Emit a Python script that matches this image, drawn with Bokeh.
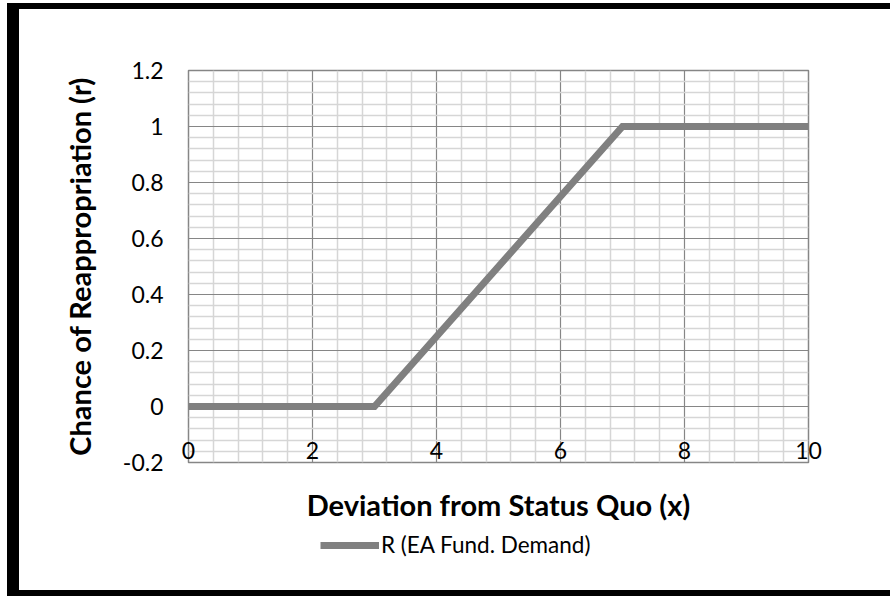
from bokeh.plotting import figure
from bokeh.layouts import column
from bokeh.models import (FixedTicker, NumeralTickFormatter, Legend, LegendItem,
                          Range1d, LinearAxis, Grid)
from bokeh.embed import file_html
from bokeh.resources import INLINE

# data
x_vals = [0, 3, 7, 10]
r_vals = [0, 0, 1, 1]
series_name = "R (EA Fund. Demand)"
x_title = "Deviation from Status Quo (x)"
y_title = "Chance of Reappropriation (r)"
x_ticks = [0, 2, 4, 6, 8, 10]
y_ticks = [-0.2, 0, 0.2, 0.4, 0.6, 0.8, 1, 1.2]
N_MINOR = 5


def minor_between(ticks, n):
    out = []
    for a, b in zip(ticks[:-1], ticks[1:]):
        out += [a + (b - a) * k / n for k in range(1, n)]
    return out


FONT = "Lato"
LINE_COLOR = "#808080"
W = 871

p = figure(frame_width=620, frame_height=392, output_backend="svg", toolbar_location=None,
           x_range=Range1d(x_ticks[0], x_ticks[-1]), y_range=Range1d(y_ticks[0], y_ticks[-1]),
           min_border_left=169, min_border_right=W - 169 - 620, min_border_top=61, min_border_bottom=62,
           x_axis_location=None, y_axis_location=None)
p.background_fill_color = "white"
p.border_fill_color = "white"
p.outline_line_color = "#868686"
p.outline_line_width = 1.5

xtick = FixedTicker(ticks=x_ticks, minor_ticks=minor_between(x_ticks, N_MINOR))
ytick = FixedTicker(ticks=y_ticks, minor_ticks=minor_between(y_ticks, N_MINOR))
xax = LinearAxis(ticker=xtick)
yax = LinearAxis(ticker=ytick, formatter=NumeralTickFormatter(format="0.[0]"))
for ax in (xax, yax):
    ax.axis_line_color = None
    ax.major_tick_line_color = None
    ax.minor_tick_line_color = None
    ax.major_tick_out = 0
    ax.minor_tick_out = 0
    ax.major_label_text_font = FONT
    ax.major_label_text_font_size = "23px"
    ax.major_label_text_color = "black"
    ax.axis_label_text_font = FONT
    ax.axis_label_text_font_style = "bold"
    ax.axis_label_text_font_size = "29px"
    ax.axis_label_text_color = "black"
xax.axis_label = x_title
yax.axis_label = y_title
xax.major_label_standoff = -21
xax.axis_label_standoff = 25
yax.major_label_standoff = 25
yax.axis_label_standoff = 23
p.add_layout(xax, "below")
p.add_layout(yax, "left")

p.xgrid.visible = False
p.ygrid.visible = False
xg = Grid(dimension=0, ticker=xtick)
yg = Grid(dimension=1, ticker=ytick)
for g in (xg, yg):
    g.grid_line_color = "#868686"
    g.grid_line_width = 1.2
    g.minor_grid_line_color = "#d6d6d6"
    g.minor_grid_line_width = 1.5
p.add_layout(xg)
p.add_layout(yg)

p.line(x_vals, r_vals, line_color=LINE_COLOR, line_width=7, line_cap="butt", line_join="miter")

# legend strip below the chart (its own small figure; the series is drawn outside its view)
p2 = figure(width=W, height=66, output_backend="svg", toolbar_location=None,
            x_range=Range1d(x_ticks[-1] + 10, x_ticks[-1] + 20), y_range=Range1d(0, 1),
            min_border_left=0, min_border_right=0, min_border_top=0, min_border_bottom=0,
            x_axis_location=None, y_axis_location=None)
p2.grid.visible = False
p2.outline_line_color = None
p2.background_fill_color = "white"
p2.border_fill_color = "white"
r2 = p2.line(x_vals, r_vals, line_color=LINE_COLOR, line_width=7, line_cap="butt")
legend = Legend(items=[LegendItem(label=series_name, renderers=[r2])], orientation="horizontal",
                location=(132, 32), border_line_color=None, background_fill_alpha=0,
                glyph_width=59, label_standoff=2, label_text_font=FONT,
                label_text_color="black",
                label_text_font_size="22.5px", padding=0, margin=0, spacing=0)
p2.add_layout(legend, "center")

layout = column(p, p2, spacing=0,
                styles={"border-left": "12px solid black", "border-top": "6px solid black",
                        "border-bottom": "6px solid black", "background-color": "white"})

html = file_html(layout, INLINE)
html = html.replace("</head>",
                    "<style>html, body { overflow: hidden; } body { padding: 3px 0 0 7px; }</style></head>", 1)
open("out.html", "w").write(html)
